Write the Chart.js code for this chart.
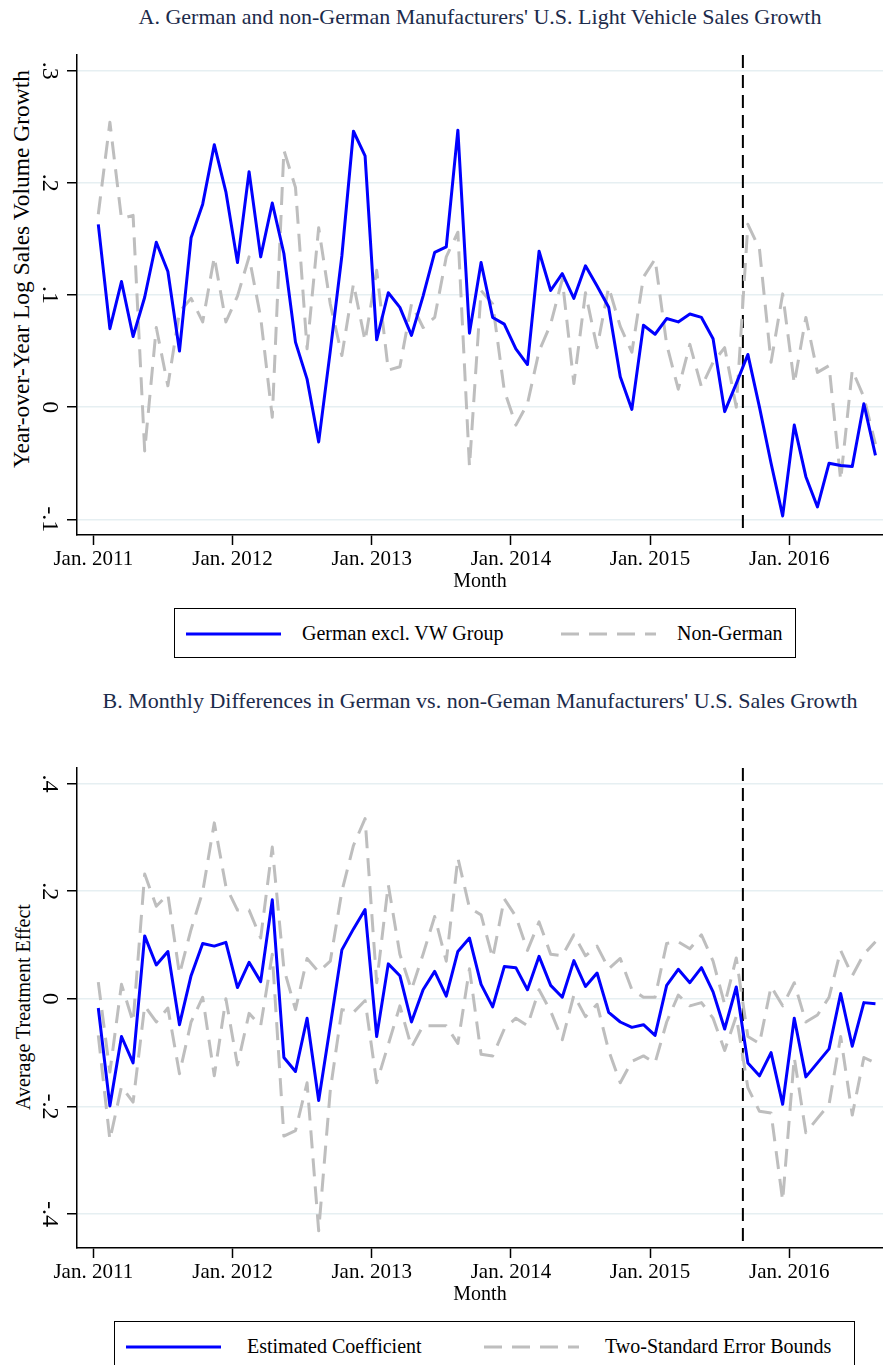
<!DOCTYPE html>
<html lang="en">
<head>
<meta charset="utf-8">
<title>German vs non-German U.S. light vehicle sales growth</title>
<script src="https://cdn.jsdelivr.net/npm/chart.js@4.4.1/dist/chart.umd.min.js"></script>
<style>
    html, body { margin: 0; padding: 0; background: #fff; }
    body {
        position: relative;
        width: 883px;
        height: 1365px;
        overflow: hidden;
        font-family: "Liberation Serif", "Times New Roman", serif;
        color: #000;
    }
    .chart-box { position: absolute; left: 0; width: 883px; height: 600px; }
    .panel-title {
        position: absolute;
        left: 77px;
        width: 806px;
        text-align: center;
        white-space: nowrap;
        font-size: 22px;
        line-height: 1;
        color: #1c2b4b;
    }
    .y-title {
        position: absolute;
        white-space: nowrap;
        font-size: 20px;
        line-height: 1;
        transform: translate(-50%, -50%) rotate(-90deg);
    }
    .legend {
        position: absolute;
        height: 50px;
        border: 1px solid #000;
        box-sizing: border-box;
        font-size: 20px;
    }
    .legend svg { position: absolute; top: 22px; }
    .legend span {
        position: absolute;
        top: 50%;
        transform: translateY(-50%);
        white-space: nowrap;
        line-height: 1;
    }
</style>
</head>
<body>

<div class="panel-title" style="top: 6px;">A. German and non-German Manufacturers' U.S. Light Vehicle Sales Growth</div>
<div class="y-title" style="left: 22px; top: 269px; font-size: 23.5px;">Year-over-Year Log Sales Volume Growth</div>
<div class="chart-box" style="top: 0;"><canvas id="chartA" width="883" height="600"></canvas></div>
<div class="legend" style="left: 174px; top: 608px; width: 622px;">
    <svg width="95" height="6" style="left: 11px;"><line x1="0" y1="3" x2="95" y2="3" stroke="#0000ff" stroke-width="3"/></svg>
    <span style="left: 127px;">German excl. VW Group</span>
    <svg width="95" height="6" style="left: 386px;"><line x1="0" y1="3" x2="95" y2="3" stroke="#bebebe" stroke-width="3" stroke-dasharray="18 10"/></svg>
    <span style="left: 502px;">Non-German</span>
</div>

<div class="panel-title" style="top: 690px;">B. Monthly Differences in German vs. non-Geman Manufacturers' U.S. Sales Growth</div>
<div class="y-title" style="left: 23px; top: 1007px;">Average Treatment Effect</div>
<div class="chart-box" style="top: 713px;"><canvas id="chartB" width="883" height="600"></canvas></div>
<div class="legend" style="left: 114px; top: 1321px; width: 741px;">
    <svg width="95" height="6" style="left: 11px;"><line x1="0" y1="3" x2="95" y2="3" stroke="#0000ff" stroke-width="3"/></svg>
    <span style="left: 132px;">Estimated Coefficient</span>
    <svg width="95" height="6" style="left: 369px;"><line x1="0" y1="3" x2="95" y2="3" stroke="#bebebe" stroke-width="3" stroke-dasharray="18 10"/></svg>
    <span style="left: 490px;">Two-Standard Error Bounds</span>
</div>

<script>
// ---- data ----

// monthly observations, Jan. 2011 - Aug. 2016
const months = [
    'Jan. 2011', 'Feb. 2011', 'Mar. 2011', 'Apr. 2011', 'May 2011', 'Jun. 2011', 'Jul. 2011', 'Aug. 2011', 'Sep. 2011', 'Oct. 2011', 'Nov. 2011', 'Dec. 2011',
    'Jan. 2012', 'Feb. 2012', 'Mar. 2012', 'Apr. 2012', 'May 2012', 'Jun. 2012', 'Jul. 2012', 'Aug. 2012', 'Sep. 2012', 'Oct. 2012', 'Nov. 2012', 'Dec. 2012',
    'Jan. 2013', 'Feb. 2013', 'Mar. 2013', 'Apr. 2013', 'May 2013', 'Jun. 2013', 'Jul. 2013', 'Aug. 2013', 'Sep. 2013', 'Oct. 2013', 'Nov. 2013', 'Dec. 2013',
    'Jan. 2014', 'Feb. 2014', 'Mar. 2014', 'Apr. 2014', 'May 2014', 'Jun. 2014', 'Jul. 2014', 'Aug. 2014', 'Sep. 2014', 'Oct. 2014', 'Nov. 2014', 'Dec. 2014',
    'Jan. 2015', 'Feb. 2015', 'Mar. 2015', 'Apr. 2015', 'May 2015', 'Jun. 2015', 'Jul. 2015', 'Aug. 2015', 'Sep. 2015', 'Oct. 2015', 'Nov. 2015', 'Dec. 2015',
    'Jan. 2016', 'Feb. 2016', 'Mar. 2016', 'Apr. 2016', 'May 2016', 'Jun. 2016', 'Jul. 2016', 'Aug. 2016'
];

// Panel A: year-over-year log sales volume growth
const germanExVW = [
    0.163, 0.070, 0.112, 0.063, 0.098, 0.147, 0.121, 0.050, 0.151, 0.181, 0.234, 0.192,
    0.129, 0.210, 0.134, 0.182, 0.137, 0.058, 0.025, -0.031, 0.050, 0.135, 0.246, 0.224,
    0.060, 0.102, 0.089, 0.064, 0.099, 0.138, 0.143, 0.247, 0.066, 0.129, 0.080, 0.074,
    0.052, 0.038, 0.139, 0.104, 0.119, 0.097, 0.126, 0.108, 0.089, 0.027, -0.002, 0.073,
    0.065, 0.079, 0.076, 0.083, 0.080, 0.061, -0.004, 0.021, 0.047, 0.000, -0.050, -0.097,
    -0.016, -0.062, -0.089, -0.050, -0.052, -0.053, 0.003, -0.043
];
const nonGerman = [
    0.172, 0.254, 0.168, 0.171, -0.039, 0.071, 0.019, 0.085, 0.097, 0.076, 0.134, 0.076,
    0.099, 0.134, 0.080, -0.009, 0.229, 0.196, 0.052, 0.160, 0.092, 0.046, 0.110, 0.059,
    0.122, 0.033, 0.036, 0.092, 0.071, 0.080, 0.134, 0.156, -0.053, 0.104, 0.092, 0.015,
    -0.016, 0.003, 0.050, 0.074, 0.114, 0.021, 0.102, 0.053, 0.107, 0.072, 0.049, 0.116,
    0.132, 0.056, 0.016, 0.056, 0.018, 0.040, 0.053, 0.000, 0.163, 0.141, 0.040, 0.101,
    0.021, 0.080, 0.031, 0.037, -0.065, 0.033, 0.009, -0.033
];

// Panel B: monthly treatment effect and two-standard-error bounds
const estCoef = [
    -0.017, -0.199, -0.070, -0.119, 0.117, 0.063, 0.088, -0.048, 0.043, 0.103, 0.098, 0.105,
    0.021, 0.068, 0.032, 0.184, -0.109, -0.135, -0.036, -0.189, -0.050, 0.091, 0.130, 0.166,
    -0.070, 0.065, 0.043, -0.043, 0.017, 0.051, 0.005, 0.088, 0.113, 0.027, -0.015, 0.060,
    0.058, 0.017, 0.079, 0.025, 0.003, 0.071, 0.023, 0.048, -0.025, -0.043, -0.053, -0.048,
    -0.068, 0.025, 0.055, 0.030, 0.058, 0.013, -0.056, 0.022, -0.119, -0.143, -0.100, -0.196,
    -0.036, -0.145, -0.119, -0.093, 0.010, -0.088, -0.007, -0.009
];
const upperBound = [
    0.031, -0.136, 0.027, -0.043, 0.232, 0.172, 0.194, 0.046, 0.129, 0.199, 0.327, 0.209,
    0.165, 0.165, 0.113, 0.282, 0.056, -0.020, 0.075, 0.050, 0.070, 0.200, 0.285, 0.335,
    0.030, 0.212, 0.083, 0.017, 0.083, 0.153, 0.070, 0.262, 0.169, 0.156, 0.076, 0.186,
    0.153, 0.090, 0.143, 0.083, 0.080, 0.119, 0.080, 0.098, 0.056, 0.075, 0.017, 0.003,
    0.003, 0.103, 0.106, 0.093, 0.119, 0.070, -0.010, 0.076, -0.070, -0.083, 0.023, -0.013,
    0.030, -0.043, -0.030, 0.003, 0.090, 0.043, 0.083, 0.106
];
const lowerBound = [
    -0.068, -0.262, -0.163, -0.192, -0.013, -0.043, -0.017, -0.139, -0.043, 0.003, -0.143, 0.000,
    -0.123, -0.027, -0.050, 0.083, -0.255, -0.245, -0.156, -0.431, -0.170, -0.020, -0.025, -0.003,
    -0.156, -0.085, -0.013, -0.090, -0.050, -0.050, -0.050, -0.083, 0.056, -0.103, -0.106, -0.056,
    -0.036, -0.050, 0.017, -0.023, -0.076, 0.007, -0.033, -0.010, -0.096, -0.156, -0.116, -0.106,
    -0.119, -0.043, 0.007, -0.013, -0.007, -0.036, -0.096, -0.032, -0.165, -0.209, -0.212, -0.375,
    -0.109, -0.249, -0.222, -0.196, -0.070, -0.216, -0.109, -0.119
];

// axis ticks
const xTickMonths = ['Jan. 2011', 'Jan. 2012', 'Jan. 2013', 'Jan. 2014', 'Jan. 2015', 'Jan. 2016'];
const yTicksA = [-0.1, 0, 0.1, 0.2, 0.3];
const yTickLabelsA = ['-.1', '0', '.1', '.2', '.3'];
const yTicksB = [-0.4, -0.2, 0, 0.2, 0.4];
const yTickLabelsB = ['-.4', '-.2', '0', '.2', '.4'];

// VW emissions announcement
const eventMonth = 'Sep. 2015';

// ---- chart setup ----

const SERIF = "'Liberation Serif', 'Times New Roman', serif";
const MID_MONTH = 0.43;     // observations are dated mid-month
const BLUE = '#0000ff';
const GREY = '#bebebe';
const GRID = '#e6eff2';

Chart.defaults.font.family = SERIF;
Chart.defaults.color = '#000';

// dashed vertical marker at the event month
const eventLinePlugin = {
    id: 'eventLine',
    beforeDatasetsDraw(chart) {
        const { ctx, chartArea, scales } = chart;
        const px = scales.x.getPixelForValue(months.indexOf(eventMonth));
        ctx.save();
        ctx.strokeStyle = '#000';
        ctx.lineWidth = 2;
        ctx.setLineDash([13, 7]);
        ctx.beginPath();
        ctx.moveTo(px, chartArea.top);
        ctx.lineTo(px, chartArea.bottom);
        ctx.stroke();
        ctx.restore();
    }
};

function toPoints(values) {
    return values.map((v, i) => ({ x: i + MID_MONTH, y: v }));
}

function series(values, color, dashed) {
    return {
        data: toPoints(values),
        borderColor: color,
        borderWidth: 3,
        borderDash: dashed ? [18, 10] : [],
        borderJoinStyle: 'round',
        pointRadius: 0,
        tension: 0,
        fill: false
    };
}

function tickText(ticks, labels, value) {
    const i = ticks.findIndex(t => Math.abs(t - value) < 1e-9);
    return i >= 0 ? labels[i] : '';
}

function buildChart(canvasId, datasets, yTicks, yLabels, yMin, yMax) {
    const xTicks = xTickMonths.map(m => months.indexOf(m));

    return new Chart(document.getElementById(canvasId), {
        type: 'line',
        data: { datasets },
        options: {
            responsive: false,
            animation: false,
            events: [],
            layout: { padding: { top: 55, left: 0, right: 0, bottom: 0 } },
            plugins: {
                legend: { display: false },
                tooltip: { enabled: false }
            },
            scales: {
                x: {
                    type: 'linear',
                    min: -1.405,
                    max: 68.08,
                    afterBuildTicks: (scale) => { scale.ticks = xTicks.map(v => ({ value: v })); },
                    afterFit: (scale) => { scale.height = 65; },
                    ticks: {
                        autoSkip: false,
                        maxRotation: 0,
                        padding: 2,
                        font: { size: 21 },
                        callback: (value) => months[value]
                    },
                    grid: {
                        drawOnChartArea: false,
                        tickLength: 10,
                        tickColor: '#000',
                        tickWidth: 1.5
                    },
                    border: { color: '#000', width: 1.5 },
                    title: {
                        display: true,
                        text: 'Month',
                        font: { size: 20 },
                        padding: { top: 0, bottom: 6 }
                    }
                },
                y: {
                    type: 'linear',
                    min: yMin,
                    max: yMax,
                    afterBuildTicks: (scale) => { scale.ticks = yTicks.map(v => ({ value: v })); },
                    afterFit: (scale) => { scale.width = 77; },
                    ticks: {
                        minRotation: -90,
                        maxRotation: -90,
                        crossAlign: 'center',
                        padding: 5,
                        font: { size: 24 },
                        callback: (value) => tickText(yTicks, yLabels, value)
                    },
                    grid: {
                        color: GRID,
                        lineWidth: 1.5,
                        tickLength: 10,
                        tickColor: '#000',
                        tickWidth: 1.5
                    },
                    border: { color: '#000', width: 1.5 }
                }
            }
        },
        plugins: [eventLinePlugin]
    });
}

document.addEventListener('DOMContentLoaded', () => {
    buildChart('chartA', [
        series(germanExVW, BLUE, false),
        series(nonGerman, GREY, true)
    ], yTicksA, yTickLabelsA, -0.114, 0.314);

    buildChart('chartB', [
        series(estCoef, BLUE, false),
        series(upperBound, GREY, true),
        series(lowerBound, GREY, true)
    ], yTicksB, yTickLabelsB, -0.463, 0.429);
});
</script>
</body>
</html>
